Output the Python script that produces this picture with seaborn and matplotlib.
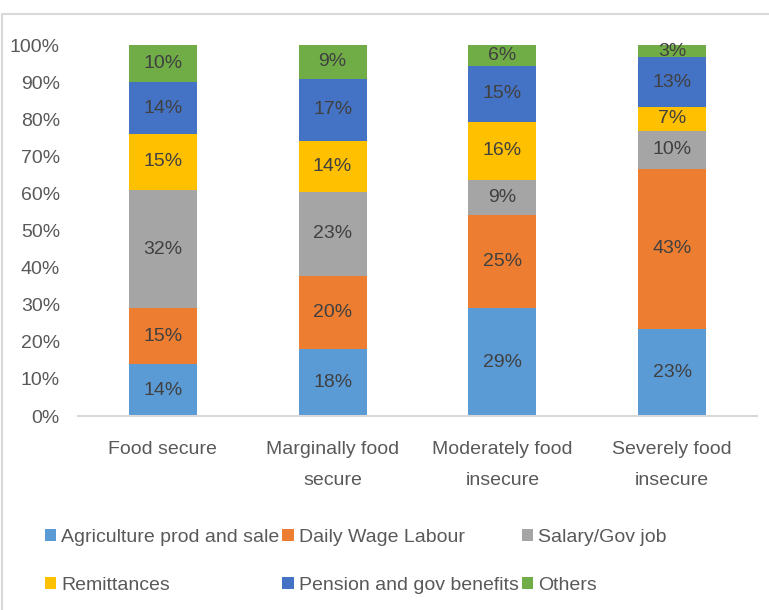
import numpy as np
import pandas as pd
import seaborn as sns
import matplotlib.pyplot as plt
from matplotlib.lines import Line2D
from matplotlib.patches import Patch

categories = ["Food secure", "Marginally food\nsecure",
              "Moderately food\ninsecure", "Severely food\ninsecure"]
sources = ["Agriculture prod and sale", "Daily Wage Labour", "Salary/Gov job",
           "Remittances", "Pension and gov benefits", "Others"]

# share of households (%) by main income source
agriculture = [14.0, 18.0, 29.0, 23.4]
daily_wage = [15.0, 19.8, 25.3, 43.3]
salary_gov = [32.0, 22.6, 9.4, 10.1]
remittances = [15.0, 13.8, 15.6, 6.6]
pension = [14.0, 16.8, 15.2, 13.3]
others = [10.0, 9.0, 5.5, 3.3]

colors = ["#5B9BD5", "#ED7D31", "#A5A5A5", "#FFC000", "#4472C4", "#70AD47"]
yticks = list(range(0, 101, 10))

sns.set_theme(style="white")
plt.rcParams["font.family"] = ["Liberation Sans", "DejaVu Sans"]
FS = 14

series = [agriculture, daily_wage, salary_gov, remittances, pension, others]
df = pd.DataFrame({"category": categories})
for name, vals in zip(sources, series):
    df[name] = vals
cum = df[sources].cumsum(axis=1)
bottoms = cum - df[sources].values

fig = plt.figure(figsize=(7.69, 6.10), dpi=100)
ax = fig.add_axes([0.1014, 0.318, 0.883, 0.608])

# stacked bars: draw cumulative totals from the top layer down
for i in reversed(range(len(sources))):
    plot_df = pd.DataFrame({"category": categories, "top": cum[sources[i]]})
    sns.barplot(data=plot_df, x="category", y="top", order=categories,
                color=colors[i], saturation=1, width=0.4, errorbar=None,
                linewidth=0, ax=ax)

for i, name in enumerate(sources):
    for j in range(len(categories)):
        v = df[name][j]
        ax.text(j, bottoms[name][j] + v / 2, f"{v:.0f}%", ha="center",
                va="center", fontsize=FS, color="#404040")

ax.set_xlim(-0.5, 3.5)
ax.set_ylim(0, 100)
ax.set_yticks(yticks)
ax.set_yticklabels([f"{t}%" for t in yticks])
ax.set_xlabel("")
ax.set_ylabel("")
ax.tick_params(axis="y", length=0, pad=13, labelsize=FS, labelcolor="#595959")
ax.tick_params(axis="x", length=0, pad=18, labelsize=FS, labelcolor="#595959")
for lab in ax.get_xticklabels():
    lab.set_linespacing(2.1)
for s in ["top", "right", "left"]:
    ax.spines[s].set_visible(False)
ax.spines["bottom"].set_color("#d9d9d9")
ax.spines["bottom"].set_linewidth(1.5)

handles = [Patch(facecolor=c, edgecolor="none") for c in colors]
order = [0, 3, 1, 4, 2, 5]
fig.legend([handles[k] for k in order], [sources[k] for k in order], ncol=3,
           loc="upper left", bbox_to_anchor=(0.058, 0.133), frameon=False,
           fontsize=FS, handlelength=0.6, handleheight=0.6,
           handletextpad=0.25, columnspacing=0.15, labelspacing=1.6,
           borderpad=0, borderaxespad=0, labelcolor="#595959")

# chart frame (left and top edges visible in the crop)
fig.add_artist(Line2D([0.003, 0.003], [0, 0.977], transform=fig.transFigure,
                      color="#d9d9d9", lw=1.5))
fig.add_artist(Line2D([0.003, 1], [0.977, 0.977], transform=fig.transFigure,
                      color="#d9d9d9", lw=1.5))

fig.savefig("out.png", dpi=100)
